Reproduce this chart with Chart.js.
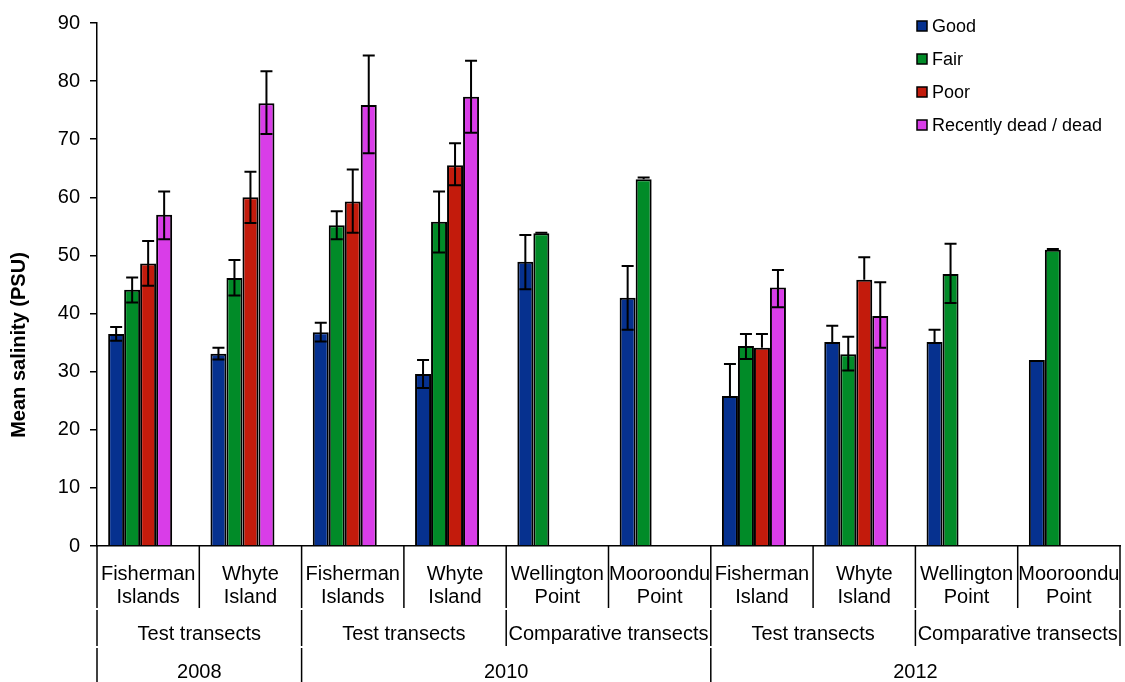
<!DOCTYPE html>
<html>
<head>
<meta charset="utf-8">
<script src="https://cdn.jsdelivr.net/npm/chart.js@4.4.1/dist/chart.umd.min.js"></script>
<style>
  body { margin: 0; background: #fff; }
  #wrap { width: 1125px; height: 682px; position: relative; }
</style>
</head>
<body>
<div id="wrap"><canvas id="salinityChart"></canvas></div>
<script>
// categories (site names on two lines)
const sites = [
  ['Fisherman', 'Islands'], ['Whyte', 'Island'],
  ['Fisherman', 'Islands'], ['Whyte', 'Island'],
  ['Wellington', 'Point'], ['Mooroondu', 'Point'],
  ['Fisherman', 'Island'], ['Whyte', 'Island'],
  ['Wellington', 'Point'], ['Mooroondu', 'Point'],
];
const transects = ['Test transects', 'Test transects', 'Comparative transects', 'Test transects', 'Comparative transects'];
const transectSpan = [2, 2, 2, 2, 2];
const years = ['2008', '2010', '2012'];
const yearSpan = [2, 4, 4];

const seriesNames = ['Good', 'Fair', 'Poor', 'Recently dead / dead'];
const seriesColors = ['#06318f', '#018b28', '#c31b0c', '#d93de8'];

// mean salinity per condition class
const good = [36.5, 33.1, 36.8, 29.6, 48.9, 42.7, 25.8, 35.1, 35.1, 32.0];
const fair = [44.1, 46.1, 55.2, 55.8, 53.8, 63.1, 34.4, 33.0, 46.8, 51.0];
const poor = [48.6, 60.0, 59.3, 65.5, null, null, 34.1, 45.8, null, null];
const dead = [57.0, 76.2, 75.9, 77.3, null, null, 44.5, 39.6, null, null];

// error bars (up / down)
const goodErrUp = [1.2, 1.0, 1.6, 2.4, 4.6, 5.5, 5.5, 2.8, 2.1, 0];
const goodErrDown = [1.2, 1.0, 1.6, 2.4, 4.7, 5.5, 0, 0, 0, 0];
const fairErrUp = [2.1, 3.1, 2.4, 5.2, 0.1, 0.3, 2.1, 3.0, 5.2, 0.1];
const fairErrDown = [2.2, 3.0, 2.4, 5.3, 0, 0, 2.2, 2.8, 5.0, 0];
const poorErrUp = [3.9, 4.4, 5.5, 3.8, null, null, 2.4, 3.9, null, null];
const poorErrDown = [3.8, 4.4, 5.4, 3.4, null, null, 0, 0, null, null];
const deadErrUp = [4.0, 5.5, 8.5, 6.2, null, null, 3.0, 5.8, null, null];
const deadErrDown = [4.2, 5.3, 8.3, 6.2, null, null, 3.4, 5.5, null, null];

// empty slot so the bar groups sit left of centre like the original
const spacer = [null, null, null, null, null, null, null, null, null, null];

const FONT = "'Liberation Sans', Arial, sans-serif";
Chart.defaults.font.family = FONT;
Chart.defaults.color = '#000';

const series = [good, fair, poor, dead];
const errUp = [goodErrUp, fairErrUp, poorErrUp, deadErrUp];
const errDown = [goodErrDown, fairErrDown, poorErrDown, deadErrDown];

const datasets = series.map((data, i) => ({
  label: seriesNames[i],
  data: data,
  backgroundColor: seriesColors[i],
  borderColor: '#000',
  borderWidth: 2,
  errUp: errUp[i],
  errDown: errDown[i],
}));
datasets.push({ label: '', data: spacer, backgroundColor: 'rgba(0,0,0,0)', borderWidth: 0 });

//Error bars drawn on top of bars
const errorBars = {
  id: 'errorBars',
  afterDatasetsDraw(chart) {
    const ctx = chart.ctx;
    const y = chart.scales.y;
    ctx.save();
    ctx.strokeStyle = '#000';
    ctx.lineWidth = 2;
    chart.data.datasets.forEach((ds, i) => {
      if (!ds.errUp) return;
      chart.getDatasetMeta(i).data.forEach((bar, j) => {
        const v = ds.data[j];
        if (v == null || !ds.errUp[j]) return;
        const top = y.getPixelForValue(v + ds.errUp[j]);
        const bot = y.getPixelForValue(v - ds.errDown[j]);
        ctx.beginPath();
        ctx.moveTo(bar.x, top);
        ctx.lineTo(bar.x, bot);
        ctx.moveTo(bar.x - 6, top);
        ctx.lineTo(bar.x + 6, top);
        if (ds.errDown[j]) {
          ctx.moveTo(bar.x - 6, bot);
          ctx.lineTo(bar.x + 6, bot);
        }
        ctx.stroke();
      });
    });
    ctx.restore();
  }
};

//Grouped category rows, y title and legend
const extras = {
  id: 'extras',
  afterDraw(chart) {
    const ctx = chart.ctx;
    const x = chart.scales.x;
    const w = x.width / sites.length;
    const edge = (i) => x.left + i * w;
    const top = x.top;

    ctx.save();
    ctx.strokeStyle = '#000';
    ctx.lineWidth = 1.5;
    function vline(px, y0, y1) {
      ctx.beginPath();
      ctx.moveTo(px, y0);
      ctx.lineTo(px, y1);
      ctx.stroke();
    }

    // row 1: between every site
    for (let i = 0; i <= sites.length; i++) vline(edge(i), top, top + 62);

    ctx.fillStyle = '#000';
    ctx.font = '20px ' + FONT;
    ctx.textAlign = 'center';
    ctx.textBaseline = 'middle';

    // row 2: transect type
    let k = 0;
    vline(edge(0), top + 64, top + 100);
    transects.forEach((t, n) => {
      const a = k;
      k += transectSpan[n];
      vline(edge(k), top + 64, top + 100);
      ctx.fillText(t, (edge(a) + edge(k)) / 2, top + 88);
    });

    // row 3: year
    k = 0;
    vline(edge(0), top + 102, chart.height);
    years.forEach((yr, n) => {
      const a = k;
      k += yearSpan[n];
      if (k < sites.length) vline(edge(k), top + 102, chart.height);
      ctx.fillText(yr, (edge(a) + edge(k)) / 2, top + 126);
    });

    // y axis title
    ctx.save();
    ctx.translate(19, 345);
    ctx.rotate(-Math.PI / 2);
    ctx.font = 'bold 20px ' + FONT;
    ctx.fillText('Mean salinity (PSU)', 0, 0);
    ctx.restore();

    // legend
    ctx.font = '18px ' + FONT;
    ctx.textAlign = 'left';
    seriesNames.forEach((name, i) => {
      const ly = 27 + i * 33;
      ctx.fillStyle = seriesColors[i];
      ctx.fillRect(917, ly - 6, 10, 10);
      ctx.strokeRect(917, ly - 6, 10, 10);
      ctx.fillStyle = '#000';
      ctx.fillText(name, 932, ly);
    });
    ctx.restore();
  }
};

new Chart(document.getElementById('salinityChart'), {
  type: 'bar',
  data: { labels: sites, datasets: datasets },
  options: {
    responsive: true,
    maintainAspectRatio: false,
    animation: false,
    layout: { padding: { top: 23, right: 5, left: 0, bottom: 0 } },
    datasets: { bar: { categoryPercentage: 0.782, barPercentage: 1 } },
    plugins: { legend: { display: false }, tooltip: { enabled: false } },
    scales: {
      x: {
        grid: { display: false, drawTicks: false },
        border: { display: true, color: '#000', width: 1.5 },
        ticks: { font: { size: 20, lineHeight: 1.15 }, padding: 17, maxRotation: 0, autoSkip: false },
        afterFit(scale) {
          scale.height = 136;
          scale.paddingLeft = 0;
          scale.paddingRight = 0;
        },
      },
      y: {
        min: 0,
        max: 90,
        ticks: { stepSize: 10, font: { size: 20 }, padding: 10 },
        grid: { display: true, drawOnChartArea: false, drawTicks: true, tickLength: 7, color: '#000', lineWidth: 1.5 },
        border: { display: true, color: '#000', width: 1.5 },
        afterFit(scale) { scale.width = 97; },
      },
    },
  },
  plugins: [errorBars, extras],
});
</script>
</body>
</html>
